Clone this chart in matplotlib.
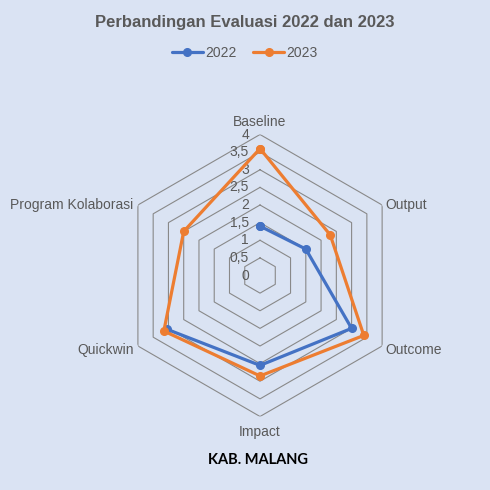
import numpy as np
import matplotlib
matplotlib.use("Agg")
import matplotlib.pyplot as plt

categories = ["Baseline", "Output", "Outcome", "Impact", "Quickwin", "Program Kolaborasi"]
values_2022 = [1.4, 1.5, 3.0, 2.55, 3.05, np.nan]
values_2023 = [3.6, 2.3, 3.4, 2.85, 3.15, 2.5]
series_names = ["2022", "2023"]
tick_values = [0, 0.5, 1, 1.5, 2, 2.5, 3, 3.5, 4]
tick_labels = ["0", "0,5", "1", "1,5", "2", "2,5", "3", "3,5", "4"]

BG = "#DAE3F3"
BLUE = "#4472C4"
ORANGE = "#ED7D31"
GRID = "#898989"
TXT = "#595959"

plt.rcParams["font.family"] = ["Liberation Sans", "DejaVu Sans"]

fig = plt.figure(figsize=(4.9, 4.9), dpi=100, facecolor=BG)
ax = fig.add_axes([0.2429, 0.15, 0.5755, 0.5755], projection="polar")
ax.set_facecolor(BG)
ax.patch.set_alpha(0)
ax.set_theta_zero_location("N")
ax.set_theta_direction(-1)
ax.set_ylim(0, 4)
ax.spines["polar"].set_visible(False)
ax.grid(False)
ax.set_xticks([])
ax.set_yticks([])

n = len(categories)
angles = np.arange(n) * 2 * np.pi / n
closed = np.append(angles, angles[0])

for r in tick_values[1:]:
    ax.plot(closed, [r] * (n + 1), color=GRID, lw=0.8, zorder=1)

for vals, col, name in [(values_2022, BLUE, series_names[0]), (values_2023, ORANGE, series_names[1])]:
    v = np.append(vals, vals[0])
    ax.plot(closed, v, color=col, lw=2.3, marker="o", ms=5.5, label=name, zorder=3,
            solid_capstyle="round")

for t, lab in zip(tick_values, tick_labels):
    ax.annotate(lab, xy=(0, t), xytext=(-8, 0), textcoords="offset points",
                ha="right", va="center", fontsize=10, color=TXT, zorder=2)

for a, lab in zip(angles, categories):
    deg = np.degrees(a)
    if np.isclose(deg, 0):
        ha, va, off = "center", "bottom", (0, 4)
    elif np.isclose(deg, 180):
        ha, va, off = "center", "top", (0, -6)
    elif deg < 180:
        ha, va, off = "left", "center", (2, 0 if deg < 90 else -3)
    else:
        ha, va, off = "right", "center", (-3, 0 if deg > 270 else -3)
    ax.annotate(lab, xy=(a, 4), xytext=off, textcoords="offset points",
                ha=ha, va=va, fontsize=10, color=TXT)

fig.text(0.5, 0.955, "Perbandingan Evaluasi 2022 dan 2023", ha="center", va="center",
         fontsize=12, fontweight="bold", color=TXT)
leg = fig.legend(loc="center", bbox_to_anchor=(0.5, 0.892), ncol=2, frameon=False,
                 fontsize=10, handlelength=2.2, columnspacing=1.2, handletextpad=0.2,
                 labelcolor=TXT)
fig.text(0.527, 0.061, "KAB. MALANG", ha="center", va="center", fontsize=10.5,
         fontweight="bold", color="black", family=["Lato", "DejaVu Sans"])

fig.savefig("out.png", dpi=100, facecolor=BG)
